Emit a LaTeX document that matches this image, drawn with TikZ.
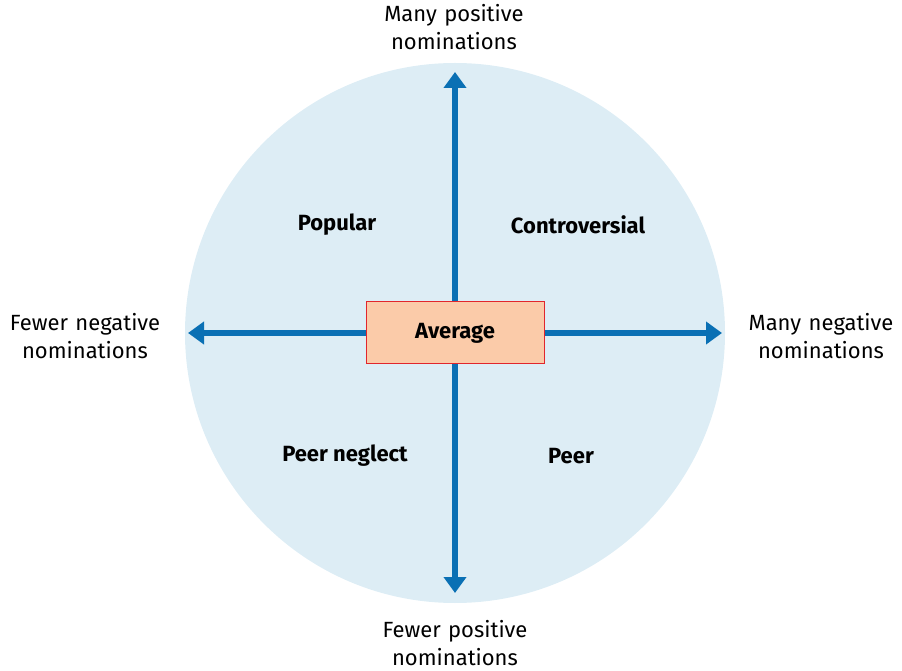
\documentclass[tikz,border=0pt]{standalone}
\usepackage{fontspec}
\setmainfont{Fira Sans}
\usetikzlibrary{arrows.meta}
\definecolor{circ}{HTML}{DDEDF5}
\definecolor{arr}{HTML}{0A70B4}
\definecolor{boxf}{HTML}{FBCBA9}
\definecolor{boxd}{HTML}{E1262C}
\begin{document}
\begin{tikzpicture}[x=1pt,y=1pt,
  ax/.style={draw=arr,line width=6pt,-{Triangle[length=16pt,width=22pt]}},
  lab/.style={font=\fontsize{22}{28}\selectfont\bfseries},
  outlab/.style={font=\fontsize{22}{28}\selectfont,align=center,text width=200pt}]
\useasboundingbox (0,0) rectangle (902,670);
\fill[circ] (455,337) circle (270);
\node[draw=boxd,fill=boxf,line width=1pt,minimum width=178pt,minimum height=62pt,inner sep=0pt,lab] (avg) at (455,337) {Average};
\coordinate (t) at (455,598);
\coordinate (b) at (455,77);
\coordinate (l) at (188,337);
\coordinate (r) at (722,337);
\draw[ax] (avg.north) -- (t);
\draw[ax] (avg.south) -- (b);
\draw[ax] (avg.west) -- (l);
\draw[ax] (avg.east) -- (r);
\node[lab] (pop) at (337,445) {Popular};
\node[lab] (con) at (578,445) {Controversial};
\node[lab] (neg) at (345,214) {Peer neglect};
\node[lab] (peer) at (571,214) {Peer};
\node[outlab] (tl) at (454,643) {Many positive\\nominations};
\node[outlab] (bl) at (455,27) {Fewer positive\\nominations};
\node[outlab] (ll) at (85,334) {Fewer negative\\nominations};
\node[outlab] (rl) at (821,334) {Many negative\\nominations};
\end{tikzpicture}
\end{document}
